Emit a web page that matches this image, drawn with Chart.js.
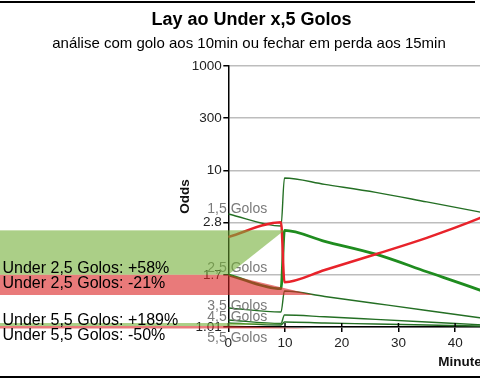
<!DOCTYPE html>
<html><head><meta charset="utf-8">
<script src="https://cdn.jsdelivr.net/npm/chart.js@4"></script>
<style>
html,body{margin:0;padding:0;background:#fff;overflow:hidden;width:480px;height:380px;}
#wrap{position:relative;width:480px;height:380px;overflow:hidden;}
canvas{position:absolute;left:0;top:0;}
.ln{position:absolute;background:#000;}
</style></head>
<body><div id="wrap"><canvas id="c" width="720" height="380"></canvas>
<div class="ln" style="left:0;top:1px;width:475px;height:2px"></div>
<div class="ln" style="left:0;top:376px;width:480px;height:2px"></div>
</div>
<script>
const titleText = 'Lay ao Under x,5 Golos';
const subtitleText = 'análise com golo aos 10min ou fechar em perda aos 15min';
const yTickValues = [1.01, 1.7, 2.8, 10, 300, 1000];
const yTickLabels = ['1.01', '1.7', '2.8', '10', '300', '1000'];
const minutes = [0, 9.3, 9.9, 17, 26, 35, 44, 52];
const under15 = [3.45, 2.71, 8.31, 7.11, 5.86, 4.64, 3.66, 2.91];
const under25 = [1.70, 1.48, 2.60, 2.34, 2.07, 1.75, 1.47, 1.245];
const over25  = [2.44, 2.82, 1.58, 1.78, 2.07, 2.42, 3.06, 4.98];
const under35 = [1.221, 1.173, 1.446, 1.369, 1.277, 1.191, 1.110, 1.051];
const under45 = [1.083, 1.046, 1.138, 1.118, 1.090, 1.062, 1.034, 1.01];
const under55 = [1.051, 1.030, 1.062, 1.051, 1.041, 1.030, 1.020, 1.01];
const lineNames = ['1,5 Golos', '2,5 Golos', '3,5 Golos', '4,5 Golos', '5,5 Golos'];
const nameOffsets = [-1, -3, 2, 1, 19];
const bandLabels = ['Under 2,5 Golos: +58%', 'Under 2,5 Golos: -21%', 'Under 5,5 Golos: +189%', 'Under 5,5 Golos: -50%'];
const bandFrom = [1.70, 1.70, 1.02, 1.02];
const bandTo = [2.60, 1.39, 1.051, 0.995];
const bandTipMinute = [9.9, 15, 9.9, 15];
const bandTextOffset = [-2, 13.5, -1.5, 14];

const LT = yTickValues.map(Math.log);
function oddsToPos(v) {
  const lv = Math.log(v);
  let k = 0;
  while (k < LT.length - 2 && lv > LT[k + 1]) k++;
  return k + (lv - LT[k]) / (LT[k + 1] - LT[k]);
}
const pts = arr => minutes.map((m, i) => ({x: m, y: oddsToPos(arr[i])}));

const FONT = 'Liberation Sans, Arial, sans-serif';
Chart.defaults.font.family = FONT;

const thin = '#246f24', thick = '#1f8c1f', red = '#e8232b';
const mk = (label, arr, color, w) => ({label, data: pts(arr), borderColor: color, borderWidth: w,
  pointRadius: 0, fill: false, cubicInterpolationMode: 'monotone'});

const annot = {
  id: 'annot',
  afterDatasetsDraw(chart) {
    const {ctx, chartArea, scales: {x, y}} = chart;
    const px = m => x.getPixelForValue(m);
    const py = v => y.getPixelForValue(oddsToPos(v));
    const ax = chartArea.left;
    ctx.save();
    // x tick marks crossing the axis
    ctx.strokeStyle = '#000'; ctx.lineWidth = 1.5;
    x.ticks.forEach(t => {
      const xx = px(t.value);
      ctx.beginPath(); ctx.moveTo(xx, chartArea.bottom - 4); ctx.lineTo(xx, chartArea.bottom); ctx.stroke();
    });
    // line name labels
    const series = [under15, under25, under35, under45, under55];
    ctx.font = '14px ' + FONT; ctx.fillStyle = '#7a7a7a'; ctx.textAlign = 'left'; ctx.textBaseline = 'alphabetic';
    lineNames.forEach((n, i) => ctx.fillText(n, ax - 21, py(series[i][0]) + nameOffsets[i]));
    // bands
    bandLabels.forEach((lab, i) => {
      const y0 = py(bandFrom[i]), y1 = py(bandTo[i]);
      ctx.fillStyle = i % 2 === 0 ? 'rgba(115,175,55,0.6)' : 'rgba(220,40,40,0.62)';
      ctx.fillRect(0, Math.min(y0, y1), ax, Math.abs(y1 - y0));
      ctx.beginPath();
      ctx.moveTo(ax, y0); ctx.lineTo(ax, y1); ctx.lineTo(px(bandTipMinute[i]), y1); ctx.closePath();
      ctx.fill();
    });
    ctx.font = '16px ' + FONT; ctx.fillStyle = '#000';
    bandLabels.forEach((lab, i) => ctx.fillText(lab, 2.5, py(bandFrom[i]) + bandTextOffset[i]));
    // titles
    ctx.textAlign = 'center';
    ctx.font = 'bold 18px ' + FONT; ctx.fillText(titleText, 251.5, 24.5);
    ctx.font = '15px ' + FONT; ctx.fillText(subtitleText, 249, 48);
    ctx.restore();
  }
};

new Chart(document.getElementById('c'), {
  type: 'line',
  data: {datasets: [
    mk('Over 2,5 Golos', over25, red, 2.5),
    mk('Under 2,5 Golos', under25, thick, 2.8),
    mk('Under 1,5 Golos', under15, thin, 1.4),
    mk('Under 3,5 Golos', under35, thin, 1.4),
    mk('Under 4,5 Golos', under45, thin, 1.4),
    mk('Under 5,5 Golos', under55, thin, 1.4)
  ]},
  options: {
    responsive: false, animation: false, devicePixelRatio: 1,
    layout: {padding: {left: 173, top: 66, right: 21, bottom: 6}},
    plugins: {legend: {display: false}, tooltip: {enabled: false}, title: {display: false}},
    scales: {
      x: {type: 'linear', min: 0, max: 83,
        afterFit: s => { s.height = 47; },
        border: {color: '#000', width: 1.5},
        grid: {drawOnChartArea: false, tickLength: 5, tickColor: '#000', lineWidth: 1.5},
        ticks: {stepSize: 10, color: '#222', font: {size: 13.5}, padding: 3, maxRotation: 0},
        title: {display: true, text: 'Minutes', color: '#111', font: {size: 13.5, weight: 'bold'}}},
      y: {type: 'linear', min: 0, max: 5,
        afterFit: s => { s.width = 55.3; },
        border: {color: '#000', width: 1.5},
        grid: {color: '#bdbdbd', lineWidth: 1.5, tickLength: 5, tickColor: '#000'},
        ticks: {stepSize: 1, autoSkip: false, color: '#222', font: {size: 13.5}, padding: 1.5,
          callback: v => yTickLabels[v]},
        title: {display: true, text: 'Odds', color: '#111', font: {size: 13.5, weight: 'bold'}}}
    }
  },
  plugins: [annot]
});
</script></body></html>
